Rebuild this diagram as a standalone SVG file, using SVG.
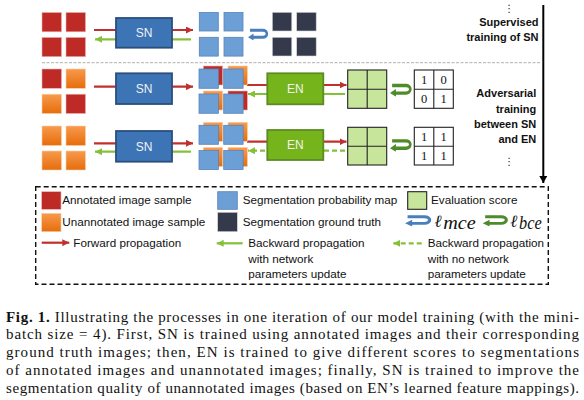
<svg xmlns="http://www.w3.org/2000/svg" width="584" height="400" viewBox="0 0 584 400">
<defs>
<linearGradient id="gOrg" x1="0" y1="0" x2="0" y2="1">
<stop offset="0" stop-color="#f89a4c"/>
<stop offset="1" stop-color="#e66d0c"/>
</linearGradient>
<marker id="mRed" viewBox="0 0 7 7" refX="7" refY="3.5" markerWidth="7" markerHeight="7" markerUnits="userSpaceOnUse" orient="auto">
<path d="M0,0 L7,3.5 L0,7 z" fill="#c0302c"/>
</marker>
<marker id="mGreen" viewBox="0 0 7 7" refX="7" refY="3.5" markerWidth="7" markerHeight="7" markerUnits="userSpaceOnUse" orient="auto">
<path d="M0,0 L7,3.5 L0,7 z" fill="#86bf3a"/>
</marker>
<marker id="mBlack" viewBox="0 0 7 8" refX="7" refY="4" markerWidth="7" markerHeight="8" markerUnits="userSpaceOnUse" orient="auto">
<path d="M0,0 L7,4 L0,8 z" fill="#000"/>
</marker>
<symbol id="loop" viewBox="0 0 26 13" preserveAspectRatio="none">
<path d="M2.5,2.4 H19 A5,3.6 0 0 1 19,9.6 H6" fill="none" stroke="currentColor" stroke-width="3.2"/>
<polygon points="0,9.6 7,5.6 7,13" fill="currentColor"/>
</symbol>
<style>
.sr{fill:#be2b27;stroke:#e9b3b0;stroke-width:0.6}
.so{fill:url(#gOrg);stroke:#f8cfa8;stroke-width:0.6}
.sb{fill:#6c9fd5;stroke:#5784bc;stroke-width:0.8}
.sd{fill:#343a4b;stroke:#d6d6d6;stroke-width:0.6}
.sg{fill:#c8e59c;stroke:#222;stroke-width:1.1}
.sn{fill:#3c74b6;stroke:#2b4e7e;stroke-width:1.8}
.en{fill:#76b41c;stroke:#5b8c24;stroke-width:1.8}
.lb{font-family:"Liberation Sans",Arial,sans-serif;font-size:12px;fill:#f2f2f2;text-anchor:middle}
.fwd{stroke:#c0302c;stroke-width:2.2;fill:none;marker-end:url(#mRed)}
.bwd{stroke:#86bf3a;stroke-width:2.2;fill:none;marker-end:url(#mGreen)}
.dsh{stroke-dasharray:5,3}
.num{font-family:"Liberation Serif","Times New Roman",serif;font-size:12.5px;fill:#111;text-anchor:middle}
.side{font-family:"Liberation Sans",Arial,sans-serif;font-size:11px;font-weight:bold;fill:#111;text-anchor:end}
.lg{font-family:"Liberation Sans",Arial,sans-serif;font-size:11.7px;fill:#111}
.ell{font-family:"DejaVu Serif","Liberation Serif",serif;font-style:italic;font-size:17px;fill:#111}
.math{font-family:"Liberation Serif","Times New Roman",serif;font-style:italic;font-size:18px;fill:#111}
.cap{font-family:"Liberation Serif","Times New Roman",serif;font-size:15px;fill:#111}
.dots{font-family:"DejaVu Sans",sans-serif;font-size:10px;fill:#111;text-anchor:middle}
</style>
</defs>
<rect width="584" height="400" fill="#fff"/>

<g id="connectors">
<line x1="42" y1="62.7" x2="540" y2="62.7" stroke="#b0b0b0" stroke-width="1" stroke-dasharray="3,1.5"/>
<line x1="543.3" y1="5" x2="543.3" y2="183" stroke="#000" stroke-width="2" marker-end="url(#mBlack)"/>
<line class="fwd" x1="94" y1="30" x2="193" y2="30"/>
<line class="bwd" x1="191" y1="39.3" x2="95" y2="39.3"/>
<line class="fwd" x1="94" y1="86.7" x2="193" y2="86.7"/>
<line class="fwd" x1="247" y1="85" x2="346.5" y2="85"/>
<line class="bwd" x1="345" y1="94" x2="248" y2="94"/>
<line class="fwd" x1="94" y1="143.3" x2="193" y2="143.3"/>
<line class="bwd" x1="191" y1="151.7" x2="95" y2="151.7"/>
<line class="fwd" x1="247" y1="141.7" x2="346.5" y2="141.7"/>
<line class="bwd dsh" x1="345" y1="150.7" x2="248" y2="150.7"/>
<use href="#loop" x="248" y="28" width="20.5" height="12.5" color="#4a7fbd"/>
<use href="#loop" x="390" y="83" width="22" height="13.7" color="#4e8b2b"/>
<use href="#loop" x="390" y="138.3" width="22" height="13.5" color="#4e8b2b"/>
</g>

<g id="row1-input">
<rect class="sr" x="42" y="12.5" width="19.5" height="19.3"/>
<rect class="sr" x="66" y="12.5" width="19.5" height="19.3"/>
<rect class="sr" x="42" y="37.4" width="19.5" height="19.3"/>
<rect class="sr" x="66" y="37.4" width="19.5" height="19.3"/>
</g>
<g id="sn1">
<rect class="sn" x="116" y="18" width="56" height="29.7"/>
<text class="lb" x="144" y="37.2">SN</text>
</g>
<g id="row1-maps">
<rect class="sb" x="199.3" y="12.5" width="19" height="18.5"/>
<rect class="sb" x="224" y="12.5" width="19" height="18.5"/>
<rect class="sb" x="199.3" y="37.3" width="19" height="18.8"/>
<rect class="sb" x="224" y="37.3" width="19" height="18.8"/>
</g>
<g id="row1-truth">
<rect class="sd" x="272.3" y="12.3" width="19.5" height="18.7"/>
<rect class="sd" x="296.7" y="12.3" width="19.5" height="18.7"/>
<rect class="sd" x="272.3" y="37.3" width="19.5" height="18.7"/>
<rect class="sd" x="296.7" y="37.3" width="19.5" height="18.7"/>
</g>

<g id="row2-input">
<rect class="sr" x="42" y="69" width="19.5" height="19.3"/>
<rect class="so" x="66" y="69" width="19.5" height="19.3"/>
<rect class="so" x="42" y="94.2" width="19.5" height="19.3"/>
<rect class="sr" x="66" y="94.2" width="19.5" height="19.3"/>
</g>
<g id="sn2">
<rect class="sn" x="116" y="73.3" width="56" height="30.7"/>
<text class="lb" x="144" y="93">SN</text>
</g>
<g id="row2-maps">
<rect class="sr" x="203.3" y="66" width="19.4" height="19"/>
<rect class="so" x="228" y="66" width="19.4" height="19"/>
<rect class="so" x="203.3" y="91" width="19.4" height="19"/>
<rect class="sr" x="228" y="91" width="19.4" height="19"/>
<rect class="sb" x="199" y="69" width="19.4" height="19.3"/>
<rect class="sb" x="223.7" y="69" width="19.4" height="19.3"/>
<rect class="sb" x="199" y="94" width="19.4" height="19.3"/>
<rect class="sb" x="223.7" y="94" width="19.4" height="19.3"/>
</g>
<g id="en2">
<rect class="en" x="267.3" y="73.3" width="56" height="31"/>
<text class="lb" x="295.3" y="93">EN</text>
</g>
<g id="score2">
<rect class="sg" x="347.7" y="70" width="39" height="38.3"/>
<line x1="367.2" y1="70" x2="367.2" y2="108.3" stroke="#222" stroke-width="1.1"/>
<line x1="347.7" y1="89.2" x2="386.7" y2="89.2" stroke="#222" stroke-width="1.1"/>
</g>
<g id="label2">
<rect x="414.3" y="70" width="39" height="38.3" fill="#fff" stroke="#222" stroke-width="1.1"/>
<line x1="433.8" y1="70" x2="433.8" y2="108.3" stroke="#222" stroke-width="1.1"/>
<line x1="414.3" y1="89.2" x2="453.3" y2="89.2" stroke="#222" stroke-width="1.1"/>
<text class="num" x="424.2" y="84">1</text>
<text class="num" x="443.5" y="84">0</text>
<text class="num" x="424.2" y="103.3">0</text>
<text class="num" x="443.5" y="103.3">1</text>
</g>

<g id="row3-input">
<rect class="so" x="42" y="126" width="19.5" height="19.5"/>
<rect class="so" x="66" y="126" width="19.5" height="19.5"/>
<rect class="so" x="42" y="151" width="19.5" height="19"/>
<rect class="so" x="66" y="151" width="19.5" height="19"/>
</g>
<g id="sn3">
<rect class="sn" x="116" y="131" width="56" height="30.7"/>
<text class="lb" x="144" y="150.6">SN</text>
</g>
<g id="row3-maps">
<rect class="so" x="203.3" y="122.3" width="19.4" height="19"/>
<rect class="so" x="228" y="122.3" width="19.4" height="19"/>
<rect class="so" x="203.3" y="147.5" width="19.4" height="19"/>
<rect class="so" x="228" y="147.5" width="19.4" height="19"/>
<rect class="sb" x="199" y="125.3" width="19.4" height="19"/>
<rect class="sb" x="223.7" y="125.3" width="19.4" height="19"/>
<rect class="sb" x="199" y="150.5" width="19.4" height="19"/>
<rect class="sb" x="223.7" y="150.5" width="19.4" height="19"/>
</g>
<g id="en3">
<rect class="en" x="267.3" y="130" width="56" height="30"/>
<text class="lb" x="295.3" y="149.3">EN</text>
</g>
<g id="score3">
<rect class="sg" x="347.7" y="127.3" width="39" height="37.7"/>
<line x1="367.2" y1="127.3" x2="367.2" y2="165" stroke="#222" stroke-width="1.1"/>
<line x1="347.7" y1="146.2" x2="386.7" y2="146.2" stroke="#222" stroke-width="1.1"/>
</g>
<g id="label3">
<rect x="414.3" y="127.3" width="39" height="37.7" fill="#fff" stroke="#222" stroke-width="1.1"/>
<line x1="433.8" y1="127.3" x2="433.8" y2="165" stroke="#222" stroke-width="1.1"/>
<line x1="414.3" y1="146.2" x2="453.3" y2="146.2" stroke="#222" stroke-width="1.1"/>
<text class="num" x="424.2" y="141">1</text>
<text class="num" x="443.5" y="141">1</text>
<text class="num" x="424.2" y="160">1</text>
<text class="num" x="443.5" y="160">1</text>
</g>

<g id="side-labels">
<text class="dots" x="509.3" y="12">⋮</text>
<text class="side" x="538.5" y="26">Supervised</text>
<text class="side" x="538.5" y="40.7">training of SN</text>
<text class="side" x="536.3" y="97.3">Adversarial</text>
<text class="side" x="536.3" y="112.7">training</text>
<text class="side" x="536.3" y="128.2">between SN</text>
<text class="side" x="536.3" y="143.3">and EN</text>
<text class="dots" x="509.3" y="165.3">⋮</text>
</g>

<g id="legend">
<rect x="35.7" y="186.7" width="512.6" height="97.6" fill="none" stroke="#111" stroke-width="1.4" stroke-dasharray="5,3"/>
<rect class="sr" x="41.7" y="191.7" width="19.3" height="17.6"/>
<text class="lg" x="62.3" y="204">Annotated image sample</text>
<rect class="so" x="41.7" y="213.3" width="19.3" height="18.4"/>
<text class="lg" x="62.3" y="225.5">Unannotated image sample</text>
<line class="fwd" x1="41.7" y1="242.7" x2="69.3" y2="242.7"/>
<text class="lg" x="73.3" y="246.7">Forward propagation</text>

<rect class="sb" x="217.7" y="191.7" width="19.6" height="17.6"/>
<text class="lg" x="242.7" y="204">Segmentation probability map</text>
<rect class="sd" x="217.7" y="212.3" width="19.6" height="19.4"/>
<text class="lg" x="242.7" y="225.5">Segmentation ground truth</text>
<line class="bwd" x1="242.7" y1="243.3" x2="216.7" y2="243.3"/>
<text class="lg" x="248.3" y="246.7">Backward propagation</text>
<text class="lg" x="248.3" y="262.5">with network</text>
<text class="lg" x="248.3" y="278">parameters update</text>

<rect class="sg" x="407.7" y="191.7" width="19" height="17.6" stroke="#7a9a5a" stroke-width="0.8"/>
<text class="lg" x="431" y="204">Evaluation score</text>
<use href="#loop" x="405" y="214.5" width="26.7" height="12" color="#4a7fbd"/>
<text class="ell" x="434.5" y="226.5">ℓ</text>
<text class="math" x="443.3" y="228.7" textLength="32.5" lengthAdjust="spacingAndGlyphs">mce</text>
<use href="#loop" x="482.7" y="214.5" width="25.6" height="12" color="#4e8b2b"/>
<text class="ell" x="510.2" y="226.5">ℓ</text>
<text class="math" x="519" y="228.7" textLength="22.7" lengthAdjust="spacingAndGlyphs">bce</text>
<line class="bwd dsh" x1="421.7" y1="243.3" x2="393.3" y2="243.3"/>
<text class="lg" x="427.7" y="246.7">Backward propagation</text>
<text class="lg" x="427.7" y="262.5">with no network</text>
<text class="lg" x="427.7" y="278">parameters update</text>
</g>

<g id="caption">
<text class="cap" x="6" y="321.5" textLength="573" lengthAdjust="spacing"><tspan font-weight="bold">Fig. 1.</tspan> Illustrating the processes in one iteration of our model training (with the mini-</text>
<text class="cap" x="6" y="339.4" textLength="573" lengthAdjust="spacing">batch size = 4). First, SN is trained using annotated images and their corresponding</text>
<text class="cap" x="6" y="357.3" textLength="573" lengthAdjust="spacing">ground truth images; then, EN is trained to give different scores to segmentations</text>
<text class="cap" x="6" y="375.2" textLength="573" lengthAdjust="spacing">of annotated images and unannotated images; finally, SN is trained to improve the</text>
<text class="cap" x="6" y="393.1" textLength="573" lengthAdjust="spacing">segmentation quality of unannotated images (based on EN’s learned feature mappings).</text>
</g>
</svg>
